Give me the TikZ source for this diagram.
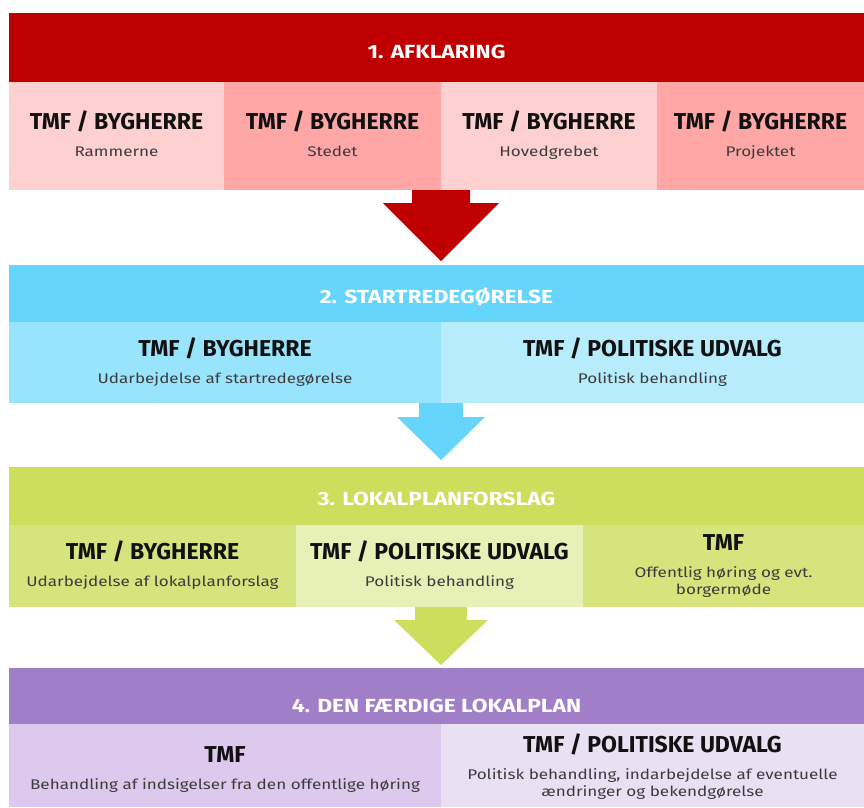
\documentclass[tikz,border=0pt]{standalone}
\usepackage{fontspec}
\usetikzlibrary{calc}
\setmainfont{Fira Sans}
\newfontfamily\titlefont{Fira Sans}
\newfontfamily\headfont[FakeStretch=1.2]{Fira Sans}
\newfontfamily\subfont[FakeStretch=1.22]{Fira Sans}
\definecolor{redH}{RGB}{190,0,0}
\definecolor{redA}{RGB}{255,208,208}
\definecolor{redB}{RGB}{255,166,166}
\definecolor{bluH}{RGB}{102,213,252}
\definecolor{bluA}{RGB}{153,228,253}
\definecolor{bluB}{RGB}{183,236,253}
\definecolor{grnH}{RGB}{204,222,92}
\definecolor{grnA}{RGB}{213,228,124}
\definecolor{grnB}{RGB}{231,240,182}
\definecolor{purH}{RGB}{160,126,200}
\definecolor{purA}{RGB}{222,201,238}
\definecolor{purB}{RGB}{233,225,243}
\definecolor{ttlc}{RGB}{17,17,17}
\definecolor{subc}{RGB}{60,60,60}
\tikzset{
  box/.style={rectangle, inner sep=0pt, outer sep=0pt, anchor=north west},
  hdr/.style={box, minimum width=855pt},
  txt/.style={inner sep=0pt, anchor=base},
  ttl/.style={txt, font=\titlefont\bfseries\fontsize{23}{26}\selectfont, text=ttlc},
  sbt/.style={txt, font=\subfont\fontsize{14}{17}\selectfont, text=subc},
  hdt/.style={txt, font=\headfont\bfseries\fontsize{19}{22}\selectfont, text=white}
}
\begin{document}
\begin{tikzpicture}[x=1pt,y=-1pt]
\useasboundingbox (0,0) rectangle (864,807);
% ---------- Section 1
\node[hdr, fill=redH, minimum height=69pt] (h1) at (9,13) {};
\node[hdt] (h1t) at ($(h1.north)+(0,45)$) {1. AFKLARING};
\node[box, fill=redA, minimum width=215pt, minimum height=108pt] (c11) at (9,82) {};
\node[box, fill=redB, minimum width=217pt, minimum height=108pt] (c12) at (224,82) {};
\node[box, fill=redA, minimum width=216pt, minimum height=108pt] (c13) at (441,82) {};
\node[box, fill=redB, minimum width=207pt, minimum height=108pt] (c14) at (657,82) {};
\node[ttl] (t11) at ($(c11.north)+(0,47)$) {TMF / BYGHERRE};
\node[sbt] (s11) at ($(c11.north)+(0,74)$) {Rammerne};
\node[ttl] (t12) at ($(c12.north)+(0,47)$) {TMF / BYGHERRE};
\node[sbt] (s12) at ($(c12.north)+(0,74)$) {Stedet};
\node[ttl] (t13) at ($(c13.north)+(0,47)$) {TMF / BYGHERRE};
\node[sbt] (s13) at ($(c13.north)+(0,74)$) {Hovedgrebet};
\node[ttl] (t14) at ($(c14.north)+(0,47)$) {TMF / BYGHERRE};
\node[sbt] (s14) at ($(c14.north)+(0,74)$) {Projektet};
% ---------- Section 2
\node[hdr, fill=bluH, minimum height=57pt] (h2) at (9,265) {};
\node[hdt] (h2t) at ($(h2.north)+(0,38)$) {2. STARTREDEGØRELSE};
\node[box, fill=bluA, minimum width=432pt, minimum height=81pt] (c21) at (9,322) {};
\node[box, fill=bluB, minimum width=423pt, minimum height=81pt] (c22) at (441,322) {};
\node[ttl] (t21) at ($(c21.north)+(0,34)$) {TMF / BYGHERRE};
\node[sbt] (s21) at ($(c21.north)+(0,61)$) {Udarbejdelse af startredegørelse};
\node[ttl] (t22) at ($(c22.north)+(0,34)$) {TMF / POLITISKE UDVALG};
\node[sbt] (s22) at ($(c22.north)+(0,61)$) {Politisk behandling};
% ---------- Section 3
\node[hdr, fill=grnH, minimum height=58pt] (h3) at (9,467) {};
\node[hdt] (h3t) at ($(h3.north)+(0,38)$) {3. LOKALPLANFORSLAG};
\node[box, fill=grnA, minimum width=287pt, minimum height=82pt] (c31) at (9,525) {};
\node[box, fill=grnB, minimum width=287pt, minimum height=82pt] (c32) at (296,525) {};
\node[box, fill=grnA, minimum width=281pt, minimum height=82pt] (c33) at (583,525) {};
\node[ttl] (t31) at ($(c31.north)+(0,34)$) {TMF / BYGHERRE};
\node[sbt] (s31) at ($(c31.north)+(0,61)$) {Udarbejdelse af lokalplanforslag};
\node[ttl] (t32) at ($(c32.north)+(0,34)$) {TMF / POLITISKE UDVALG};
\node[sbt] (s32) at ($(c32.north)+(0,61)$) {Politisk behandling};
\node[ttl] (t33) at ($(c33.north)+(0,25)$) {TMF};
\node[sbt] (s33a) at ($(c33.north)+(0,52)$) {Offentlig høring og evt.};
\node[sbt] (s33b) at ($(c33.north)+(0,69)$) {borgermøde};
% ---------- Section 4
\node[hdr, fill=purH, minimum height=56pt] (h4) at (9,668) {};
\node[hdt] (h4t) at ($(h4.north)+(0,44)$) {4. DEN FÆRDIGE LOKALPLAN};
\node[box, fill=purA, minimum width=432pt, minimum height=83pt] (c41) at (9,724) {};
\node[box, fill=purB, minimum width=423pt, minimum height=83pt] (c42) at (441,724) {};
\node[ttl] (t41) at ($(c41.north)+(0,38)$) {TMF};
\node[sbt] (s41) at ($(c41.north)+(0,65)$) {Behandling af indsigelser fra den offentlige høring};
\node[ttl] (t42) at ($(c42.north)+(0,28)$) {TMF / POLITISKE UDVALG};
\node[sbt] (s42a) at ($(c42.north)+(0,55)$) {Politisk behandling, indarbejdelse af eventuelle};
\node[sbt] (s42b) at ($(c42.north)+(0,72)$) {ændringer og bekendgørelse};
% ---------- Block arrows
\coordinate (a1) at (c12.south east);
\fill[redH] (a1) ++(-29,0) -- ++(0,13) -- ++(-29,0) -- ($(a1)+(0,71)$) -- ++(58,-58) -- ++(-29,0) -- ++(0,-13) -- cycle;
\coordinate (a2) at (c21.south east);
\fill[bluH] (a2) ++(-22,0) -- ++(0,14) -- ++(-22,0) -- ($(a2)+(0,57)$) -- ++(44,-43) -- ++(-22,0) -- ++(0,-14) -- cycle;
\coordinate (a3) at ($(c32.south)+(1.5,0)$);
\fill[grnH] (a3) ++(-26,0) -- ++(0,13) -- ++(-21,0) -- ($(a3)+(0,58)$) -- ++(47,-45) -- ++(-21,0) -- ++(0,-13) -- cycle;
\end{tikzpicture}
\end{document}
